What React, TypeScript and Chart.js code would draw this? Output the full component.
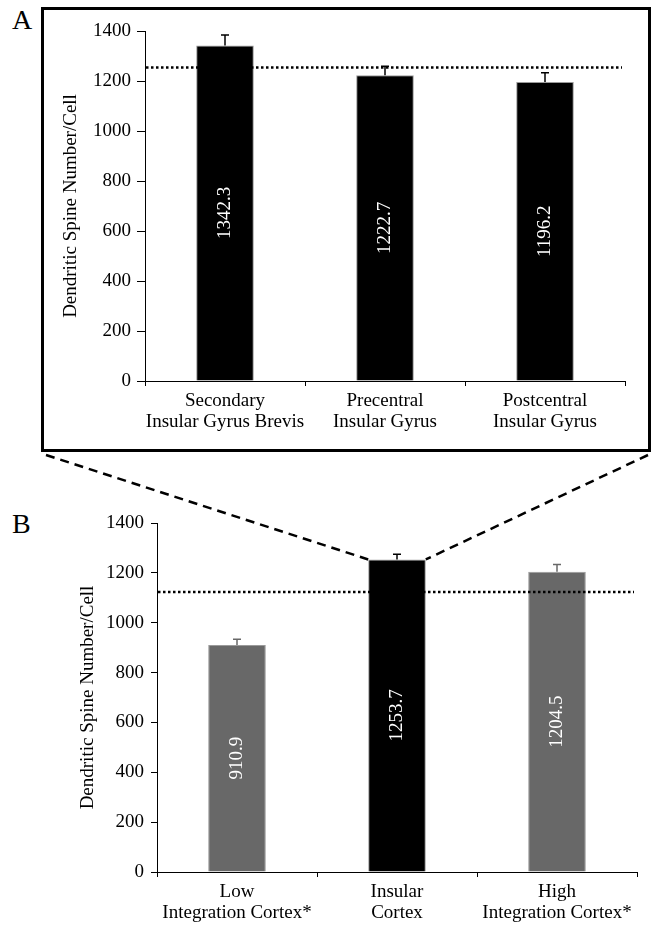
import React, { useEffect, useRef } from "react";
import { Chart, registerables } from "chart.js";

Chart.register(...registerables);

const FONT = '"Liberation Serif", "Times New Roman", serif';

// ---- Panel A data ----
const A_CATEGORIES = [
  ["Secondary", "Insular Gyrus Brevis"],
  ["Precentral", "Insular Gyrus"],
  ["Postcentral", "Insular Gyrus"],
];
const A_VALUES = [1342.3, 1222.7, 1196.2];
const A_ERRORS = [42, 36, 37];
const A_COLORS = ["#000000", "#000000", "#000000"];
const A_REFERENCE = 1253.7;

// ---- Panel B data ----
const B_CATEGORIES = [
  ["Low", "Integration Cortex*"],
  ["Insular", "Cortex"],
  ["High", "Integration Cortex*"],
];
const B_VALUES = [910.9, 1253.7, 1204.5];
const B_ERRORS = [23, 21, 29];
const B_COLORS = ["#686868", "#000000", "#686868"];
const B_REFERENCE = 1123;
const B_ZOOM_INDEX = 1;

// ---- Shared axis ----
const Y_MIN = 0;
const Y_MAX = 1400;
const Y_STEP = 200;
const Y_TITLE = "Dendritic Spine Number/Cell";

function overlayPlugin(values: number[], errors: number[], colors: string[], reference: number) {
  return {
    id: "overlay",
    afterDatasetsDraw(chart: any) {
      const ctx = chart.ctx;
      const y = chart.scales.y;
      const area = chart.chartArea;
      const meta = chart.getDatasetMeta(0);
      meta.data.forEach((bar: any, i: number) => {
        const top = y.getPixelForValue(values[i] + errors[i]);
        ctx.save();
        ctx.strokeStyle = colors[i];
        ctx.lineWidth = 1.5;
        ctx.beginPath();
        ctx.moveTo(bar.x, bar.y);
        ctx.lineTo(bar.x, top);
        ctx.moveTo(bar.x - 4, top);
        ctx.lineTo(bar.x + 4, top);
        ctx.stroke();
        ctx.restore();

        ctx.save();
        ctx.translate(bar.x, (bar.y + bar.base) / 2);
        ctx.rotate(-Math.PI / 2);
        ctx.fillStyle = "#ffffff";
        ctx.font = `19px ${FONT}`;
        ctx.textAlign = "center";
        ctx.textBaseline = "middle";
        ctx.fillText(values[i].toFixed(1), 0, 0);
        ctx.restore();
      });
      const ry = y.getPixelForValue(reference);
      ctx.save();
      ctx.strokeStyle = "#000";
      ctx.lineWidth = 2.5;
      ctx.setLineDash([2.5, 2.5]);
      ctx.beginPath();
      ctx.moveTo(area.left + 1, ry);
      ctx.lineTo(area.right - 3, ry);
      ctx.stroke();
      ctx.restore();
    },
  };
}

function zoomLinesPlugin(index: number, leftStart: [number, number], rightStart: [number, number]) {
  return {
    id: "zoomLines",
    afterDraw(chart: any) {
      const ctx = chart.ctx;
      const bar = chart.getDatasetMeta(0).data[index];
      const half = bar.width / 2;
      ctx.save();
      ctx.strokeStyle = "#000";
      ctx.lineWidth = 2.5;
      ctx.setLineDash([9, 6]);
      ctx.beginPath();
      ctx.moveTo(leftStart[0], leftStart[1]);
      ctx.lineTo(bar.x - half, bar.y);
      ctx.stroke();
      ctx.beginPath();
      ctx.moveTo(rightStart[0], rightStart[1]);
      ctx.lineTo(bar.x + half, bar.y);
      ctx.stroke();
      ctx.restore();
    },
  };
}

function buildConfig(opts: {
  labels: string[][];
  values: number[];
  colors: string[];
  errors: number[];
  reference: number;
  padding: { left: number; top: number; right: number; bottom: number };
  yWidth: number;
  xHeight: number;
  yTickLen: number;
  yTickPad: number;
  extra: any[];
}) {
  return {
    type: "bar" as const,
    data: {
      labels: opts.labels,
      datasets: [
        {
          data: opts.values,
          backgroundColor: opts.colors,
          borderColor: "#9a9a9a",
          borderWidth: 1,
          barPercentage: 0.36,
          categoryPercentage: 1,
        },
      ],
    },
    options: {
      responsive: false,
      animation: false,
      devicePixelRatio: 1,
      layout: { padding: opts.padding },
      plugins: { legend: { display: false }, tooltip: { enabled: false } },
      scales: {
        x: {
          ticks: {
            color: "#000",
            font: { family: FONT, size: 19, lineHeight: 1.1 },
            padding: 5,
            maxRotation: 0,
            autoSkip: false,
          },
          grid: { drawOnChartArea: false, drawTicks: true, tickLength: 5, color: "#000", offset: true },
          border: { display: true, color: "#000", width: 1 },
          afterFit: (s: any) => {
            s.height = opts.xHeight;
          },
        },
        y: {
          min: Y_MIN,
          max: Y_MAX,
          ticks: {
            stepSize: Y_STEP,
            color: "#000",
            font: { family: FONT, size: 19 },
            padding: opts.yTickPad,
            callback: (v: any) => String(v),
          },
          grid: { drawOnChartArea: false, drawTicks: true, tickLength: opts.yTickLen, color: "#000" },
          border: { display: true, color: "#000", width: 1 },
          title: { display: true, text: Y_TITLE, color: "#000", font: { family: FONT, size: 19 }, padding: 0 },
          afterFit: (s: any) => {
            s.width = opts.yWidth;
          },
        },
      },
    },
    plugins: [overlayPlugin(opts.values, opts.errors, opts.colors, opts.reference), ...opts.extra],
  };
}

export default function App() {
  const aRef = useRef<HTMLCanvasElement>(null);
  const bRef = useRef<HTMLCanvasElement>(null);

  useEffect(() => {
    const a = new Chart(
      aRef.current as HTMLCanvasElement,
      buildConfig({
        labels: A_CATEGORIES,
        values: A_VALUES,
        colors: A_COLORS,
        errors: A_ERRORS,
        reference: A_REFERENCE,
        padding: { left: 60, top: 31, right: 28, bottom: 0 },
        yWidth: 85,
        xHeight: 71,
        yTickLen: 8,
        yTickPad: 6,
        extra: [],
      }) as any
    );
    const b = new Chart(
      bRef.current as HTMLCanvasElement,
      buildConfig({
        labels: B_CATEGORIES,
        values: B_VALUES,
        colors: B_COLORS,
        errors: B_ERRORS,
        reference: B_REFERENCE,
        padding: { left: 77, top: 71, right: 16, bottom: 0 },
        yWidth: 80,
        xHeight: 57,
        yTickLen: 6,
        yTickPad: 7,
        extra: [zoomLinesPlugin(B_ZOOM_INDEX, [46, 3], [648, 3])],
      }) as any
    );
    return () => {
      a.destroy();
      b.destroy();
    };
  }, []);

  return (
    <div style={{ position: "absolute", left: 0, top: 0, width: 653, height: 929, background: "#fff", overflow: "hidden" }}>
      <div
        style={{
          position: "absolute",
          left: 41,
          top: 7,
          width: 610,
          height: 445,
          border: "3px solid #000",
          boxSizing: "border-box",
        }}
      />
      <div style={{ position: "absolute", left: 12, top: 6, fontFamily: FONT, fontSize: 28, lineHeight: "28px", color: "#000" }}>A</div>
      <canvas ref={aRef} width={653} height={452} style={{ position: "absolute", left: 0, top: 0, width: 653, height: 452 }} />
      <div style={{ position: "absolute", left: 12, top: 510, fontFamily: FONT, fontSize: 28, lineHeight: "28px", color: "#000" }}>B</div>
      <canvas ref={bRef} width={653} height={477} style={{ position: "absolute", left: 0, top: 452, width: 653, height: 477 }} />
    </div>
  );
}
